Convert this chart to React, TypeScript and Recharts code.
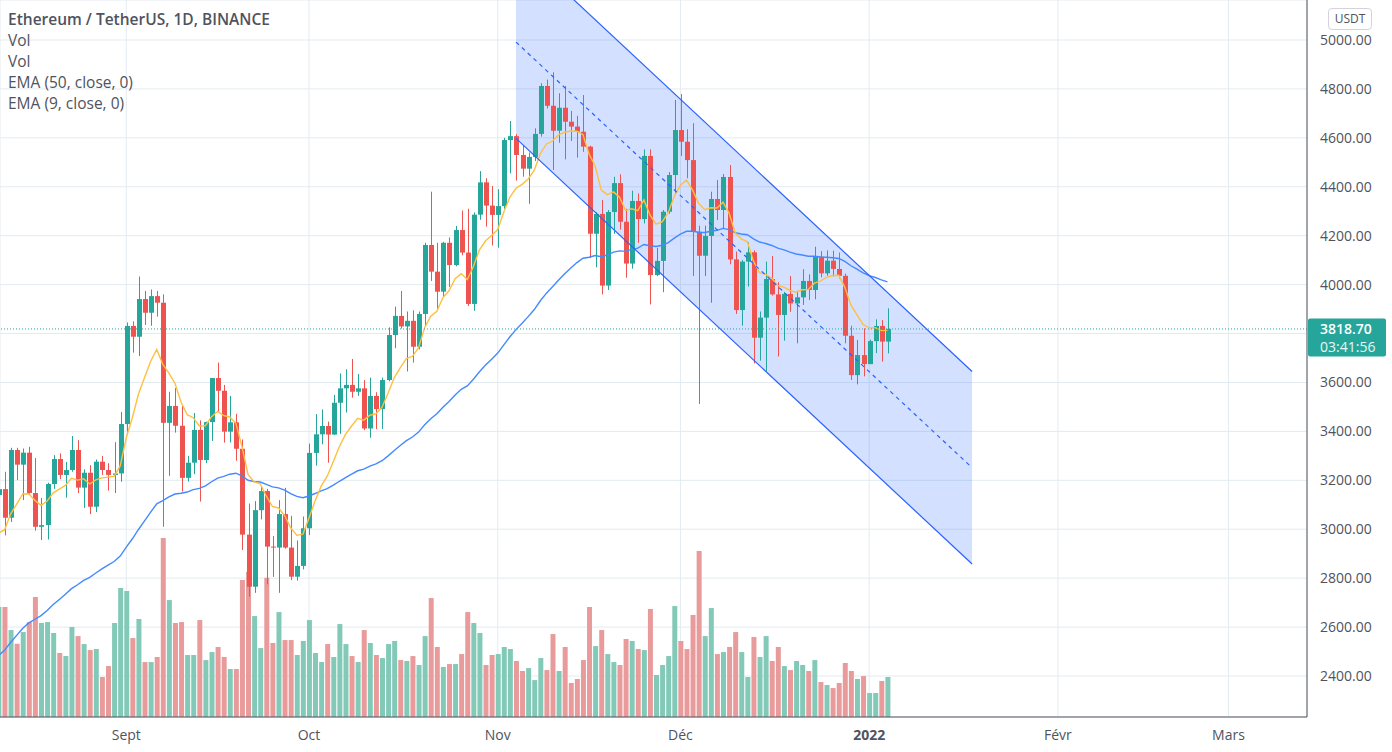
import React from 'react';
import {
  ComposedChart,
  Bar,
  Line,
  Area,
  XAxis,
  YAxis,
  CartesianGrid,
  ReferenceLine,
  Cell,
} from 'recharts';

// day numbers are counted from 1 Sep 2021; the first candle is 11 Aug 2021
const FIRST_DAY = -21;

const opens = [
  3140, 3164, 3047, 3324, 3264, 3313, 3148, 3010, 3017, 3185, 3287, 3222, 3242, 3324, 3170, 3231, 3092, 3276, 3242, 3222, 3228,
  3430, 3831, 3787, 3941, 3885, 3953, 3926, 3435, 3504, 3423, 3210, 3272, 3406, 3283, 3438, 3618, 3566, 3399, 3437, 3329,
  2978, 2765, 3078, 3156, 2929, 2925, 3062, 2925, 2806, 2850,
  3004, 3312, 3388, 3422, 3387, 3517, 3576, 3590, 3562, 3576, 3412, 3545, 3491, 3610, 3794, 3872, 3829, 3852, 3746, 3880,
  4162, 4053, 3971, 4171, 4080, 4223, 4131, 3921, 4286, 4418, 4323,
  4285, 4321, 4591, 4607, 4530, 4474, 4522, 4616, 4812, 4731, 4629, 4723, 4666, 4646, 4625, 4564, 4208, 4289, 3996, 4297,
  4415, 4257, 4086, 4342, 4268, 4526, 4039, 4097, 4298, 4448,
  4632, 4584, 4509, 4216, 4118, 4199, 4350, 4305, 4440, 4103, 3896, 4094, 4132, 3783, 3865, 4023, 3960, 3876, 3962, 3923,
  3948, 4015, 3978, 4114, 4046, 4098, 4064, 4036, 3791, 3630, 3712,
  3675, 3769, 3831, 3767,
];
const highs = [
  3270, 3235, 3333, 3333, 3330, 3337, 3291, 3128, 3190, 3303, 3310, 3275, 3381, 3364, 3245, 3262, 3285, 3300, 3270, 3356, 3479,
  3845, 3850, 4033, 3974, 3980, 3974, 3960, 3562, 3577, 3505, 3300, 3475, 3445, 3440, 3618, 3681, 3590, 3545, 3472, 3367,
  3105, 3115, 3175, 3165, 2972, 3119, 3169, 3055, 2954, 3052,
  3350, 3471, 3490, 3440, 3549, 3637, 3654, 3696, 3635, 3610, 3620, 3560, 3620, 3825, 3910, 3974, 3890, 3895, 3890, 4171,
  4380, 4171, 4175, 4193, 4240, 4303, 4310, 4295, 4464, 4435, 4403,
  4390, 4600, 4669, 4615, 4570, 4540, 4639, 4823, 4838, 4868, 4782, 4812, 4710, 4690, 4775, 4568, 4296, 4346, 4305, 4441,
  4451, 4310, 4384, 4373, 4553, 4553, 4150, 4305, 4460, 4755,
  4779, 4635, 4660, 4241, 4241, 4380, 4428, 4452, 4489, 4135, 4100, 4173, 4140, 3890, 4094, 4117, 4010, 3970, 4035, 3975,
  4063, 4042, 4155, 4137, 4140, 4139, 4131, 4045, 3832, 3774, 3821,
  3775, 3858, 3855, 3903,
];
const lows = [
  3120, 2975, 3030, 3201, 3119, 3140, 2994, 2956, 2958, 3165, 3205, 3129, 3235, 3148, 3087, 3062, 3070, 3222, 3158, 3148, 3194,
  3385, 3722, 3708, 3835, 3832, 3869, 3010, 3218, 3395, 3154, 3195, 3225, 3113, 3270, 3361, 3481, 3354, 3355, 3280, 2915,
  2725, 2740, 3040, 2775, 2805, 2740, 2920, 2792, 2790, 2836,
  2976, 3260, 3347, 3272, 3385, 3390, 3477, 3538, 3545, 3405, 3374, 3409, 3410, 3605, 3740, 3820, 3645, 3681, 3735, 3831,
  4015, 3896, 3950, 3990, 4075, 4120, 3913, 3893, 4265, 4237, 4160,
  4151, 4310, 4455, 4425, 4441, 4330, 4505, 4605, 4720, 4469, 4580, 4512, 4587, 4519, 4543, 4108, 4071, 3960, 3978, 4207,
  4225, 4028, 4065, 4171, 4250, 3919, 4035, 3969, 4290, 4366,
  4526, 4435, 4035, 3512, 4035, 3926, 4264, 4230, 4083, 3880, 3832, 3992, 3678, 3689, 3647, 3955, 3706, 3771, 3889, 3760,
  3917, 3937, 3940, 4030, 4036, 4033, 4025, 3760, 3610, 3592, 3625,
  3675, 3720, 3685, 3719,
];
const closes = [
  3164, 3047, 3324, 3264, 3313, 3148, 3010, 3017, 3185, 3287, 3222, 3242, 3324, 3170, 3231, 3092, 3276, 3242, 3222, 3228, 3430,
  3831, 3787, 3941, 3885, 3953, 3926, 3435, 3504, 3423, 3210, 3272, 3406, 3283, 3438, 3618, 3566, 3399, 3437, 3329, 2978,
  2765, 3078, 3156, 2929, 2925, 3062, 2925, 2806, 2850, 3004,
  3312, 3388, 3422, 3387, 3517, 3576, 3590, 3562, 3576, 3412, 3545, 3491, 3610, 3794, 3872, 3829, 3852, 3746, 3880, 4162,
  4053, 3971, 4171, 4080, 4223, 4131, 3921, 4286, 4418, 4323, 4285,
  4321, 4591, 4607, 4530, 4474, 4522, 4616, 4812, 4731, 4629, 4723, 4666, 4646, 4625, 4564, 4208, 4289, 3996, 4297, 4415,
  4257, 4086, 4342, 4268, 4526, 4039, 4097, 4298, 4448, 4632,
  4584, 4509, 4216, 4118, 4199, 4350, 4305, 4440, 4103, 3896, 4094, 4132, 3783, 3865, 4023, 3960, 3876, 3962, 3923, 3948,
  4015, 3978, 4114, 4046, 4098, 4064, 4036, 3791, 3630, 3712, 3675,
  3769, 3831, 3767, 3819,
];
// volume, thousand ETH
const volumes = [
  825, 825, 652, 550, 637, 712, 900, 705, 712, 630, 480, 457, 675, 607, 547, 502, 510, 300, 382, 705, 967,
  945, 592, 735, 412, 412, 450, 1342, 877, 705, 712, 465, 465, 727, 427, 487, 525, 450, 360, 360, 1027,
  1090, 757, 517, 1045, 555, 787, 577, 577, 465, 570,
  727, 480, 412, 547, 450, 697, 547, 457, 412, 652, 555, 465, 442, 547, 570, 427, 420, 457, 390, 607,
  892, 525, 375, 397, 397, 472, 787, 705, 630, 390, 465,
  472, 525, 510, 420, 345, 367, 277, 442, 352, 622, 345, 525, 255, 285, 427, 825, 532, 652, 472, 412,
  390, 585, 570, 510, 502, 810, 315, 390, 457, 832,
  570, 510, 765, 1245, 607, 817, 472, 487, 525, 637, 487, 300, 600, 450, 607, 420, 525, 382, 352, 420,
  390, 345, 427, 262, 240, 217, 255, 405, 345, 285, 307,
  180, 180, 270, 300,
];
const ema9 = [
  2985, 2997, 3062, 3103, 3144, 3145, 3118, 3098, 3115, 3149, 3164, 3179, 3208, 3201, 3206, 3185, 3202, 3210, 3213, 3216, 3259,
  3374, 3457, 3553, 3620, 3687, 3735, 3674, 3638, 3596, 3519, 3468, 3456, 3422, 3423, 3460, 3482, 3465, 3459, 3433, 3338,
  3223, 3194, 3186, 3135, 3093, 3087, 3056, 3006, 2975, 2980,
  3046, 3115, 3176, 3217, 3277, 3338, 3388, 3422, 3453, 3446, 3466, 3472, 3499, 3557, 3619, 3661, 3698, 3707, 3742, 3825,
  3871, 3891, 3947, 3975, 4024, 4045, 4021, 4074, 4142, 4179, 4201,
  4225, 4297, 4358, 4394, 4410, 4432, 4468, 4536, 4575, 4587, 4612, 4623, 4628, 4627, 4613, 4534, 4485, 4386, 4368, 4379,
  4357, 4303, 4310, 4302, 4346, 4285, 4247, 4256, 4294, 4361,
  4406, 4427, 4386, 4332, 4306, 4314, 4313, 4337, 4292, 4212, 4187, 4175, 4096, 4049, 4042, 4026, 3997, 3990, 3976, 3969,
  3979, 3980, 4006, 4014, 4030, 4037, 4038, 3989, 3917, 3876, 3837,
  3823, 3824, 3812, 3813,
];
const ema50 = [
  2483, 2505, 2537, 2566, 2595, 2617, 2632, 2647, 2668, 2692, 2713, 2734, 2757, 2773, 2791, 2803, 2821, 2838, 2853, 2868, 2890,
  2927, 2961, 2999, 3034, 3070, 3104, 3117, 3132, 3144, 3147, 3152, 3162, 3167, 3177, 3194, 3209, 3216, 3225, 3229, 3218,
  3200, 3195, 3193, 3183, 3173, 3169, 3160, 3146, 3134, 3129,
  3136, 3146, 3157, 3166, 3180, 3196, 3211, 3225, 3239, 3246, 3258, 3267, 3280, 3300, 3322, 3342, 3362, 3377, 3397, 3427,
  3452, 3472, 3499, 3522, 3549, 3572, 3586, 3613, 3644, 3671, 3695,
  3720, 3754, 3787, 3816, 3842, 3869, 3898, 3934, 3965, 3991, 4019, 4044, 4068, 4090, 4108, 4112, 4119, 4114, 4121, 4133,
  4138, 4136, 4144, 4149, 4164, 4159, 4156, 4161, 4172, 4190,
  4206, 4218, 4218, 4214, 4213, 4218, 4222, 4230, 4225, 4212, 4207, 4204, 4187, 4174, 4168, 4160, 4149, 4142, 4133, 4125,
  4121, 4116, 4116, 4113, 4112, 4110, 4107, 4095, 4077, 4063, 4048,
  4037, 4029, 4019, 4011,
];

const monthTicks = [0, 30, 61, 91, 122, 153, 181];
const monthLabels = ['Sept', 'Oct', 'Nov', 'Déc', '2022', 'Févr', 'Mars'];
const priceTicks = [2400, 2600, 2800, 3000, 3200, 3400, 3600, 3800, 4000, 4200, 4400, 4600, 4800, 5000];

// parallel channel drawing: two anchor days
const channelDays = [64, 138.9];
const channelLower = [4598, 2858];
const channelUpper = [5385, 3645];
const channelMid = [4991.5, 3251.5];

const lastPrice = 3818.7;
const countdown = '03:41:56';

const UP = '#26a69a';
const DOWN = '#ef5350';
const VOL_UP = '#83c9b8';
const VOL_DOWN = '#e89b9a';
const TEXT = '#50535e';
const GRID = '#e3ebf0';
const FONT = "'Open Sans', 'Noto Sans', sans-serif";

const X_DOMAIN: [number, number] = [-20.74, 193.9];

const rows = opens.map((open, i) => ({
  day: FIRST_DAY + i,
  open,
  high: highs[i],
  low: lows[i],
  close: closes[i],
  range: [lows[i], highs[i]],
  vol: volumes[i],
  ema9: ema9[i],
  ema50: ema50[i],
}));

const channel = channelDays.map((day, i) => ({
  day,
  band: [channelLower[i], channelUpper[i]],
  upper: channelUpper[i],
  lower: channelLower[i],
  mid: channelMid[i],
}));

const Candle = (props: any) => {
  const { x, y, width, height, payload } = props;
  if (!payload) return null;
  const top = Math.min(y, y + height);
  const h = Math.abs(height);
  const ppu = h / (payload.high - payload.low || 1);
  const yo = top + (payload.high - payload.open) * ppu;
  const yc = top + (payload.high - payload.close) * ppu;
  const color = payload.close >= payload.open ? UP : DOWN;
  const cx = Math.round(x + width / 2) + 0.5;
  return (
    <g>
      <line x1={cx} x2={cx} y1={top} y2={top + h} stroke={color} strokeWidth={1} />
      <rect
        x={cx - width / 2}
        y={Math.min(yo, yc)}
        width={width}
        height={Math.max(1, Math.abs(yc - yo))}
        fill={color}
      />
    </g>
  );
};

const MonthTick = (props: any) => {
  const { x, y, payload } = props;
  const label = monthLabels[monthTicks.indexOf(payload.value)];
  return (
    <text
      x={x}
      y={y + 23}
      textAnchor="middle"
      fontSize={14}
      fontFamily={FONT}
      fontWeight={label === '2022' ? 700 : 400}
      fill={TEXT}
    >
      {label}
    </text>
  );
};

// the last-price tag covers the tick right under it
const PriceTick = (props: any) => {
  const { x, y, payload } = props;
  if (Math.abs(payload.value - lastPrice) < 80) return <g />;
  return (
    <text x={x + 13} y={y + 5} fontSize={14} fontFamily={FONT} fill={TEXT}>
      {payload.value.toFixed(2)}
    </text>
  );
};

const PriceTag = (props: any) => {
  const vb = props.viewBox || {};
  const left = vb.x + vb.width;
  const cy = vb.y;
  return (
    <g>
      <rect x={left + 1} y={cy - 10.5} width={78} height={38} rx={2} fill={UP} />
      <text x={left + 13} y={cy + 5} fontSize={14} fontWeight={600} fontFamily={FONT} fill="#fff">
        {lastPrice.toFixed(2)}
      </text>
      <text x={left + 13} y={cy + 23} fontSize={14} fontFamily={FONT} fill="#e8f6f4">
        {countdown}
      </text>
    </g>
  );
};

export default function App() {
  return (
    <div style={{ position: 'absolute', left: 0, top: 0, width: 1392, height: 752, background: '#fff' }}>
      <ComposedChart
        width={1392}
        height={752}
        data={rows}
        margin={{ top: 0, right: 0, bottom: 0, left: 0 }}
      >
        <CartesianGrid xAxisId="main" yAxisId="price" stroke={GRID} strokeWidth={1} />
        <XAxis
          xAxisId="main"
          dataKey="day"
          type="number"
          domain={X_DOMAIN}
          allowDataOverflow
          ticks={monthTicks}
          interval={0}
          height={35}
          tick={<MonthTick />}
          tickLine={false}
          tickSize={0}
          tickMargin={0}
          axisLine={{ stroke: TEXT, strokeWidth: 1 }}
        />
        <XAxis xAxisId="vol" dataKey="day" type="number" domain={X_DOMAIN} allowDataOverflow hide />
        <YAxis
          yAxisId="price"
          orientation="right"
          type="number"
          domain={[2232.4, 5163.5]}
          allowDataOverflow
          ticks={priceTicks}
          interval={0}
          width={85}
          tick={<PriceTick />}
          tickLine={false}
          tickSize={0}
          tickMargin={0}
          axisLine={{ stroke: TEXT, strokeWidth: 1 }}
        />
        <YAxis yAxisId="vol" type="number" domain={[0, 5377]} allowDataOverflow hide />

        <Area
          xAxisId="main"
          yAxisId="price"
          data={channel}
          dataKey="band"
          type="linear"
          stroke="none"
          fill="#2962ff"
          fillOpacity={0.2}
          dot={false}
          activeDot={false}
          isAnimationActive={false}
        />

        <Bar xAxisId="vol" yAxisId="vol" dataKey="vol" barSize={5} isAnimationActive={false}>
          {rows.map((r) => (
            <Cell key={`v-${r.day}`} fill={r.close >= r.open ? VOL_UP : VOL_DOWN} />
          ))}
        </Bar>
        <Bar
          xAxisId="main"
          yAxisId="price"
          dataKey="range"
          barSize={5}
          shape={<Candle />}
          isAnimationActive={false}
        />

        <Line
          xAxisId="main"
          yAxisId="price"
          dataKey="ema50"
          type="linear"
          stroke="#448aff"
          strokeWidth={1.4}
          dot={false}
          activeDot={false}
          isAnimationActive={false}
        />
        <Line
          xAxisId="main"
          yAxisId="price"
          dataKey="ema9"
          type="linear"
          stroke="#ffbf40"
          strokeWidth={1.4}
          dot={false}
          activeDot={false}
          isAnimationActive={false}
        />

        <Line
          xAxisId="main"
          yAxisId="price"
          data={channel}
          dataKey="upper"
          type="linear"
          stroke="#2962ff"
          strokeWidth={1.2}
          dot={false}
          activeDot={false}
          isAnimationActive={false}
        />
        <Line
          xAxisId="main"
          yAxisId="price"
          data={channel}
          dataKey="lower"
          type="linear"
          stroke="#2962ff"
          strokeWidth={1.2}
          dot={false}
          activeDot={false}
          isAnimationActive={false}
        />
        <Line
          xAxisId="main"
          yAxisId="price"
          data={channel}
          dataKey="mid"
          type="linear"
          stroke="#2962ff"
          strokeWidth={1.2}
          strokeDasharray="4 4"
          dot={false}
          activeDot={false}
          isAnimationActive={false}
        />

        <ReferenceLine
          xAxisId="main"
          yAxisId="price"
          y={lastPrice}
          stroke={UP}
          strokeDasharray="1 2"
          label={<PriceTag />}
        />
      </ComposedChart>

      <div
        style={{
          position: 'absolute',
          left: 8,
          top: 9,
          fontFamily: FONT,
          fontSize: 15.5,
          lineHeight: '21px',
          color: TEXT,
          pointerEvents: 'none',
        }}
      >
        <div style={{ fontWeight: 600 }}>Ethereum / TetherUS, 1D, BINANCE</div>
        <div>Vol</div>
        <div>Vol</div>
        <div>EMA (50, close, 0)</div>
        <div>EMA (9, close, 0)</div>
      </div>

      <div
        style={{
          position: 'absolute',
          left: 1328,
          top: 8,
          width: 42,
          height: 20,
          border: '1px solid #d1d4dc',
          borderRadius: 4,
          fontFamily: FONT,
          fontSize: 12,
          lineHeight: '20px',
          textAlign: 'center',
          color: TEXT,
          background: '#fff',
        }}
      >
        USDT
      </div>
    </div>
  );
}
